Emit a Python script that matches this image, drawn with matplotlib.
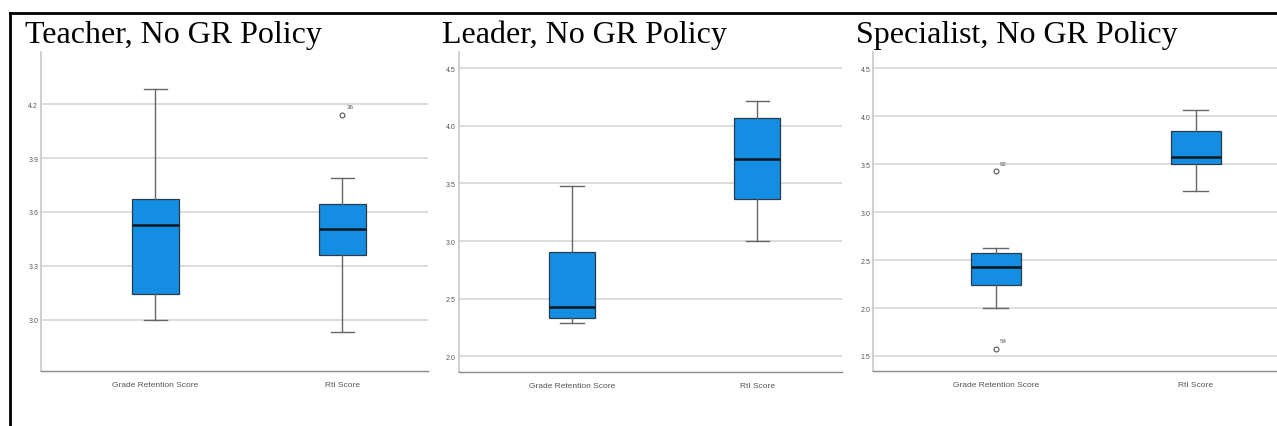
import matplotlib.pyplot as plt
from matplotlib.lines import Line2D

# summary statistics for each group: whislo, q1, median, q3, whishi
groups = ["Grade Retention Score", "RtI Score"]

teacher_gr = [3.00, 3.146, 3.526, 3.670, 4.285]
teacher_rti = [2.930, 3.359, 3.503, 3.646, 3.789]
teacher_outliers = [[], [4.142]]
teacher_outlier_ids = [[], ["36"]]

leader_gr = [2.289, 2.335, 2.431, 2.905, 3.474]
leader_rti = [3.000, 3.361, 3.711, 4.072, 4.214]
leader_outliers = [[], []]
leader_outlier_ids = [[], []]

specialist_gr = [2.000, 2.240, 2.430, 2.570, 2.622]
specialist_rti = [3.216, 3.500, 3.573, 3.851, 4.070]
specialist_outliers = [[3.424, 1.573], []]
specialist_outlier_ids = [["92", "54"], []]

titles = ["Teacher, No GR Policy", "Leader, No GR Policy", "Specialist, No GR Policy"]
yticks = [[3.0, 3.3, 3.6, 3.9, 4.2],
          [2.0, 2.5, 3.0, 3.5, 4.0, 4.5],
          [1.5, 2.0, 2.5, 3.0, 3.5, 4.0, 4.5]]
ylims = [(2.715, 4.49), (1.861, 4.641), (1.34, 4.67)]

panels = [
    (teacher_gr, teacher_rti, teacher_outliers, teacher_outlier_ids),
    (leader_gr, leader_rti, leader_outliers, leader_outlier_ids),
    (specialist_gr, specialist_rti, specialist_outliers, specialist_outlier_ids),
]

W, H = 1277, 427
fig = plt.figure(figsize=(W / 100, H / 100), dpi=100)

# axes rectangles in pixels: left, right, top, bottom
rects = [(41, 428, 53, 372), (458.7, 841.7, 53, 373.3), (873.3, 1277, 53, 372.3)]
xlims = [(0.389, 2.458), (0.388, 2.456), (0.388, 2.407)]
title_x = [25, 442, 856]

small = ["Liberation Sans", "DejaVu Sans"]
box_blue = "#138ee3"

for i, (gr, rti, outs, ids) in enumerate(panels):
    l, r, t, b = rects[i]
    ax = fig.add_axes([l / W, (H - b) / H, (r - l) / W, (b - t) / H])
    stats = []
    for name, s, fl in zip(groups, [gr, rti], outs):
        stats.append(dict(label=name, whislo=s[0], q1=s[1], med=s[2], q3=s[3],
                          whishi=s[4], fliers=fl))
    ax.bxp(stats, positions=[1, 2], widths=0.25, patch_artist=True,
           boxprops=dict(facecolor=box_blue, edgecolor="#2b3a47", linewidth=0.9),
           medianprops=dict(color="#0a1620", linewidth=1.8),
           whiskerprops=dict(color="#666666", linewidth=1.0),
           capprops=dict(color="#666666", linewidth=1.0),
           capwidths=0.125,
           flierprops=dict(marker="o", markersize=3.5, markerfacecolor="none",
                           markeredgecolor="#555555", markeredgewidth=0.8),
           zorder=3)
    for pos, fl, labs in zip([1, 2], outs, ids):
        for v, lab in zip(fl, labs):
            ax.annotate(lab, (pos, v), xytext=(3, 5), textcoords="offset points",
                        fontsize=4.5, color="#555555", family=small)
    ax.set_xlim(*xlims[i])
    ax.set_ylim(*ylims[i])
    ax.set_yticks(yticks[i])
    ax.set_yticklabels([f"{v:.1f}" for v in yticks[i]], fontsize=5,
                       color="#555555", family=small)
    ax.set_xticks([1, 2])
    ax.set_xticklabels(groups, fontsize=6, color="#555555", family=small)
    ax.tick_params(length=0, pad=2)
    ax.tick_params(axis="x", pad=7)
    ax.grid(axis="y", color="#d9d9d9", linewidth=1.3, zorder=0)
    ax.set_axisbelow(True)
    for side in ["top", "right"]:
        ax.spines[side].set_visible(False)
    ax.spines["left"].set_color("#c8c8c8")
    ax.spines["left"].set_linewidth(1.2)
    ax.spines["bottom"].set_color("#888888")
    ax.spines["bottom"].set_linewidth(1.0)
    fig.text(title_x[i] / W, (H - 43) / H, titles[i], fontsize=23,
             family="Liberation Serif", color="black", va="baseline", ha="left")

# black frame along the top and left edges
fig.add_artist(Line2D([10 / W, 1.0], [(H - 13.5) / H] * 2, color="black", linewidth=2.0))
fig.add_artist(Line2D([10 / W] * 2, [0, (H - 13.5) / H], color="black", linewidth=2.0))

fig.savefig("out.png", dpi=100)
